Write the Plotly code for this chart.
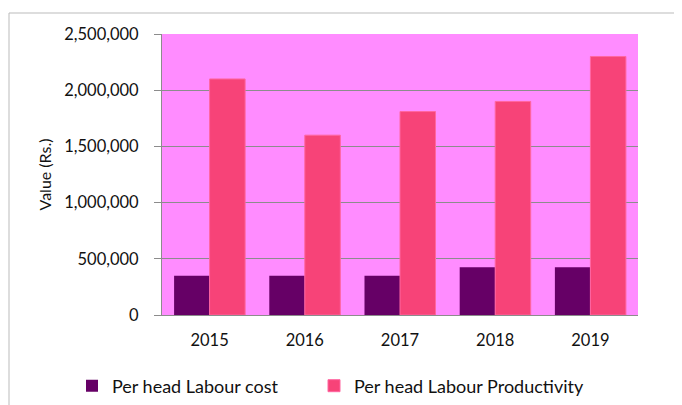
import plotly.graph_objects as go

years = ["2015", "2016", "2017", "2018", "2019"]
labour_cost = [350000, 350000, 350000, 425000, 425000]
labour_productivity = [2100000, 1600000, 1810000, 1900000, 2300000]

font = "Lato"

fig = go.Figure()
fig.add_trace(go.Bar(x=years, y=labour_cost, name="Per head Labour cost",
                     marker=dict(color="#660066", line=dict(width=0)),
                     legend="legend", showlegend=True))
fig.add_trace(go.Bar(x=years, y=labour_productivity, name="Per head Labour Productivity",
                     marker=dict(color="#F74378", line=dict(color="#FF66A0", width=1)),
                     legend="legend2", showlegend=True))

leg_y = (315 - 386) / 281
leg_style = dict(orientation="h", y=leg_y, xanchor="left", yanchor="middle",
                 itemwidth=30, font=dict(size=18), bgcolor="rgba(0,0,0,0)")

# the page body adds an 8px offset, so margins are shifted to compensate
fig.update_layout(
    width=682, height=405,
    margin=dict(l=154, r=52, t=26, b=98, autoexpand=False),
    showlegend=True,
    paper_bgcolor="white",
    plot_bgcolor="#FF8CFF",
    barmode="group",
    bargap=0.254,
    bargroupgap=0,
    font=dict(family=font, size=16, color="#111111"),
    legend=dict(x=(72 - 162) / 476, **leg_style),
    legend2=dict(x=(314 - 162) / 476, **leg_style),
    shapes=[dict(type="rect", xref="paper", yref="paper",
                 x0=(9 - 162) / 476, x1=1.2, y0=-0.5, y1=1 + 21 / 281,
                 line=dict(color="#BBBBBB", width=1), layer="below")],
)
fig.update_yaxes(range=[0, 2500000], dtick=500000, tickformat=",",
                 showgrid=True, gridcolor="#8C8C8C", gridwidth=1,
                 showline=True, linecolor="#8C8C8C", ticks="outside",
                 ticklen=7, tickcolor="#8C8C8C", zeroline=False, automargin=False,
                 ticklabelstandoff=12,
                 title=dict(text="Value (Rs.)", standoff=8, font=dict(size=16)),
                 tickfont=dict(size=16.5))
fig.update_xaxes(showline=True, linecolor="#8C8C8C", ticks="", automargin=False,
                 ticklabelstandoff=10,
                 tickfont=dict(size=16.5), mirror=False)

fig.write_html("out.html")
